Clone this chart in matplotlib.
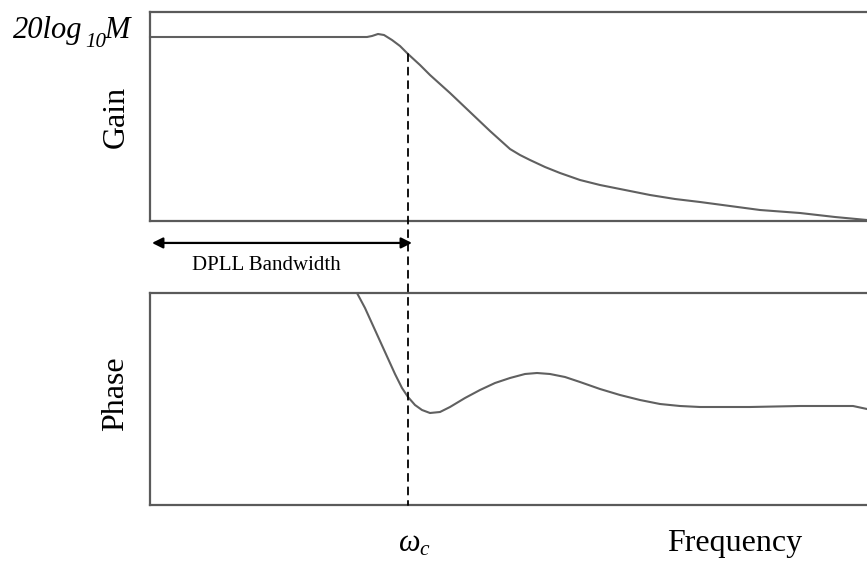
import matplotlib
matplotlib.use("Agg")
import matplotlib.pyplot as plt
from matplotlib.patches import ConnectionPatch

plt.rcParams['font.family'] = ['Liberation Serif', 'DejaVu Serif']
plt.rcParams['mathtext.fontset'] = 'custom'
plt.rcParams['mathtext.rm'] = 'Liberation Serif'
plt.rcParams['mathtext.it'] = 'Liberation Serif:italic'

# frequency axis in arbitrary units (0 .. 717)
gain_freq = [0, 217, 222, 228, 234, 242, 250, 258, 270, 280, 300, 320, 340,
             350, 360, 370, 380, 395, 410, 430, 450, 475, 500, 525, 550, 580,
             610, 650, 685, 717]
gain_db = [184, 184, 185, 187, 186, 181, 175, 167, 156, 146, 128, 109, 90,
           81, 72, 66, 61, 54, 48, 41, 36, 31, 26, 22, 19, 15, 11, 8, 4, 1]

phase_freq = [207, 215, 225, 235, 245, 252, 258, 265, 272, 280, 290, 300, 315,
              330, 345, 360, 375, 387, 400, 415, 430, 450, 470, 490, 510, 530,
              550, 600, 650, 703, 717]
phase_val = [212, 197, 175, 153, 131, 117, 108, 100, 95, 92, 93, 98, 107,
             115, 122, 127, 131, 132, 131, 128, 123, 116, 110, 105, 101, 99,
             98, 98, 99, 99, 96]

wc = 258          # crossover frequency
wc_gain = 167     # gain at the crossover

curve_col = '#606060'
spine_col = '#5a5a5a'

W, H = 867, 561


def px(x, y):
    # pixel position (from top-left) -> figure fraction
    return x / W, 1 - y / H


fig = plt.figure(figsize=(8.67, 5.61), dpi=100)
ax_g = fig.add_axes([150 / W, 1 - 221 / H, 717 / W, 209 / H])
ax_p = fig.add_axes([150 / W, 1 - 505 / H, 717 / W, 212 / H])

for ax in (ax_g, ax_p):
    ax.set_xlim(0, 717)
    ax.set_xticks([])
    ax.set_yticks([])
    ax.spines['right'].set_visible(False)
    for s in ('left', 'top', 'bottom'):
        ax.spines[s].set_color(spine_col)
        ax.spines[s].set_linewidth(1.6)

ax_g.set_ylim(0, 209)
ax_p.set_ylim(0, 212)

ax_g.plot(gain_freq, gain_db, color=curve_col, lw=1.5, clip_on=False)
ax_p.plot(phase_freq, phase_val, color=curve_col, lw=1.5)

# dashed marker at the crossover, spanning both panels
con = ConnectionPatch(xyA=(wc, wc_gain), coordsA=ax_g.transData,
                      xyB=(wc, 0), coordsB=ax_p.transData,
                      color='black', lw=1.3, linestyle=(0, (4, 3.5)))
fig.add_artist(con)

# bandwidth arrow
ax_g.annotate('', xy=(2, -0.105), xytext=(262, -0.105),
              xycoords=('data', 'axes fraction'),
              textcoords=('data', 'axes fraction'),
              arrowprops=dict(arrowstyle='<|-|>', color='black', lw=1.6,
                              mutation_scale=16, shrinkA=0, shrinkB=0))
fig.text(*px(266, 265), 'DPLL Bandwidth', fontsize=15,
         ha='center', va='center')

fig.text(*px(116, 117), 'Gain', fontsize=23, rotation=90,
         ha='center', va='center')
fig.text(*px(116, 394), 'Phase', fontsize=23, rotation=90,
         ha='center', va='center')

# 20log10 M label, built from italic pieces
fig.text(*px(13, 38), '20log', fontsize=22, style='italic',
         ha='left', va='baseline')
fig.text(*px(85, 47), '10', fontsize=15, style='italic',
         ha='left', va='baseline')
fig.text(*px(104, 38), 'M', fontsize=22, style='italic',
         ha='left', va='baseline')

fig.text(*px(398, 552), r'$\omega_c$', fontsize=22,
         ha='left', va='baseline')
fig.text(*px(667, 551), 'Frequency', fontsize=23,
         ha='left', va='baseline')

fig.savefig('out.png', dpi=100)
